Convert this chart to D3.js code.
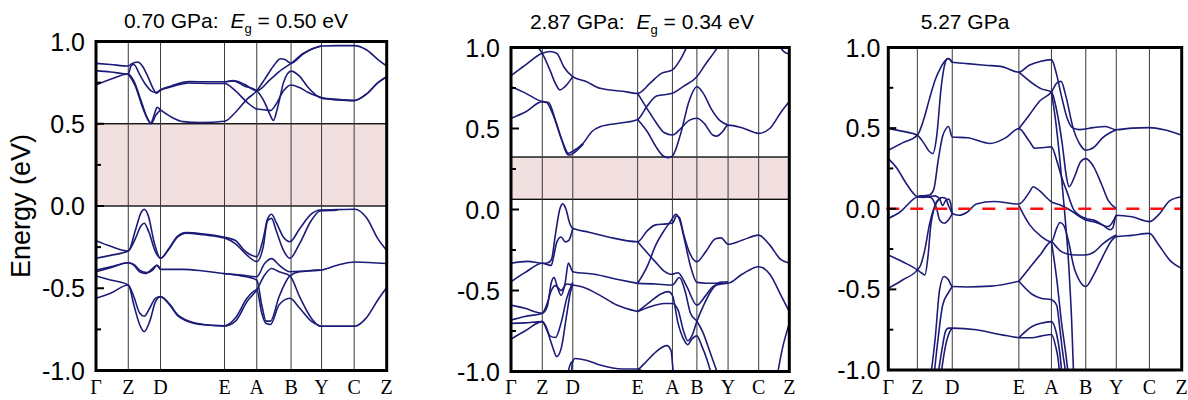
<!DOCTYPE html>
<html>
<head>
<meta charset="utf-8">
<script src="https://cdn.jsdelivr.net/npm/d3@7"></script>
<style>
  body { margin: 0; background: #fff; }
  svg { display: block; }
</style>
</head>
<body>
<svg id="chart" width="1188" height="400"></svg>
<script>
// High-symmetry points along the k-path and their positions (% of path length)
const kLabels = ["Γ", "Z", "D", "E", "A", "B", "Y", "C", "Z"];
const kPos1 = [0, 11.1, 22.2, 44.2, 55.3, 67.1, 77.6, 88.8, 100];
const kPos2 = [0, 11.25, 22.2, 45.5, 58.0, 66.8, 78.0, 89.0, 100];
const kPos3 = [0, 9.9, 21.8, 44.5, 55.6, 67.3, 77.7, 89.0, 100];

const energyTicks = [-1.0, -0.5, 0.0, 0.5, 1.0];
const energyMinorTicks = [-0.75, -0.25, 0.25, 0.75];

const pressures = ["0.70 GPa", "2.87 GPa", "5.27 GPa"];
const gapValues = ["0.50", "0.34", null];
// Shaded band-gap windows [lower, upper] in eV
const gapWindows = [[0.0, 0.50], [0.063, 0.324], null];

// Bands: each is a list of [k (% of path), energy (eV)]
const bands1 = [
  [[0,0.867],[5,0.86],[11.1,0.851],[12.3,0.865],[14.3,0.875],[16,0.85],[18,0.78],[19.5,0.72],[20.8,0.685],[22.2,0.705],[26,0.73],[32,0.756],[40,0.755],[44.2,0.755],[47,0.762],[51,0.73],[55.3,0.70],[58,0.63],[60,0.55],[61,0.52],[62.5,0.6],[64.5,0.75],[67.1,0.82],[70,0.79],[73,0.72],[77.6,0.655],[83,0.645],[88.8,0.64],[93,0.68],[97,0.75],[100,0.786]],
  [[0,0.823],[5,0.815],[11.1,0.802],[12,0.85],[13,0.86],[15,0.8],[17,0.74],[19,0.70],[20.5,0.69],[22.2,0.705],[26,0.725],[32,0.748],[40,0.745],[44.2,0.745],[48,0.7],[52,0.63],[55.3,0.59],[58,0.585],[60,0.58],[62,0.62],[64.5,0.70],[67.1,0.736],[70,0.72],[73,0.69],[77.6,0.66],[83,0.648],[88.8,0.642],[93,0.68],[97,0.75],[100,0.786]],
  [[0,0.736],[5,0.77],[11.1,0.802],[13,0.76],[15.5,0.64],[17.5,0.54],[18.8,0.505],[20.3,0.57],[21,0.6],[22.2,0.584],[26,0.54],[30,0.513],[36,0.507],[44.2,0.515],[48,0.57],[52,0.65],[55.3,0.70],[58,0.77],[61,0.85],[63.5,0.895],[65,0.89],[67.1,0.867],[71,0.92],[75,0.96],[77.6,0.973],[83,0.975],[88.8,0.975],[93,0.95],[97,0.89],[100,0.851]],
  [[11.1,0.802],[13.5,0.73],[16,0.6],[18,0.52],[19,0.5],[20.5,0.55],[22.2,0.584]],
  [[44.2,0.755],[48,0.76],[51,0.74],[55.3,0.70],[60,0.77],[64,0.83],[67.1,0.867],[71,0.925],[77.6,0.973]],
  [[0,-0.211],[5,-0.245],[11.1,-0.274],[13.5,-0.15],[15.5,-0.04],[16.6,-0.02],[18,-0.06],[20,-0.22],[22.2,-0.318],[25,-0.26],[28,-0.185],[31,-0.162],[37,-0.17],[44.2,-0.19],[48,-0.21],[51,-0.27],[55.3,-0.308],[57.5,-0.2],[59,-0.08],[60.4,-0.05],[62,-0.1],[64.5,-0.19],[66.7,-0.217],[70,-0.14],[74,-0.05],[77.1,-0.024],[83,-0.022],[89.1,-0.02],[93,-0.07],[97,-0.2],[100,-0.27]],
  [[0,-0.318],[5,-0.3],[11.1,-0.274],[13.5,-0.2],[15.5,-0.12],[16.6,-0.105],[18,-0.15],[20.5,-0.28],[22.2,-0.318],[25,-0.265],[28,-0.19],[31,-0.165],[37,-0.175],[44.2,-0.195],[48,-0.23],[52,-0.3],[55.3,-0.338],[57.5,-0.25],[59,-0.09],[60.4,-0.075],[62,-0.15],[64.5,-0.27],[66.7,-0.318],[70,-0.23],[74,-0.09],[77.1,-0.03],[83,-0.025]],
  [[0,-0.39],[5,-0.37],[11.1,-0.345],[13,-0.36],[15,-0.40],[17,-0.41],[19.5,-0.38],[20.9,-0.36],[22.2,-0.385],[30,-0.385],[37,-0.395],[43.8,-0.41],[50,-0.42],[55.3,-0.43],[58,-0.35],[60.4,-0.32],[63,-0.36],[66.7,-0.40],[72,-0.395],[77.1,-0.39],[83,-0.36],[89.1,-0.34],[100,-0.35]],
  [[0,-0.40],[5,-0.375],[11.1,-0.345],[13,-0.355],[15,-0.39],[17.5,-0.405],[19.5,-0.39],[21,-0.36],[22.2,-0.385]],
  [[0,-0.425],[5,-0.45],[11.1,-0.48],[13,-0.55],[15,-0.65],[16.6,-0.67],[18.5,-0.62],[20.5,-0.56],[22.2,-0.551],[25.5,-0.6],[28,-0.66],[31,-0.693],[37,-0.72],[44.2,-0.729],[48,-0.7],[52,-0.58],[55.3,-0.51],[58,-0.42],[60.4,-0.38],[63,-0.40],[66.7,-0.425],[70,-0.55],[74,-0.68],[77.1,-0.73],[83,-0.73],[89.1,-0.73],[93,-0.68],[97,-0.57],[100,-0.496]],
  [[0,-0.561],[5,-0.53],[11.1,-0.48],[13,-0.6],[15,-0.72],[16.6,-0.764],[18.5,-0.7],[20.5,-0.58],[22.2,-0.551],[25.5,-0.605],[28,-0.665],[31,-0.697],[37,-0.722],[44.2,-0.729],[48,-0.68],[52,-0.56],[55.3,-0.51],[57,-0.65],[58.5,-0.715],[60,-0.72],[63,-0.6],[66.7,-0.561],[70,-0.62],[74,-0.7],[77.1,-0.73]],
  [[43.8,-0.41],[50,-0.425],[55.3,-0.45],[57,-0.6],[58.5,-0.70],[60,-0.70],[63,-0.55],[66.7,-0.425],[70,-0.4],[77.1,-0.39]]
];

const bands2 = [
  [[0,0.826],[5,0.89],[11.25,0.964],[14,0.975],[16.4,0.965],[19,0.88],[22.2,0.82],[27,0.79],[32,0.748],[40,0.73],[45.5,0.717],[50,0.78],[54,0.84],[58,0.862],[61,0.93],[63.1,1.0],[64.5,1.04]],
  [[7,1.04],[11.25,0.964],[14,0.86],[16.2,0.77],[17.6,0.738],[19.5,0.76],[22.2,0.82]],
  [[0,0.758],[5,0.72],[11.25,0.666],[13.5,0.66],[16,0.55],[18.5,0.42],[20.6,0.347],[22.2,0.36],[26,0.41],[29,0.48],[32,0.511],[40,0.535],[45.5,0.556],[49,0.64],[52.3,0.70],[58,0.717],[62,0.76],[66.8,0.82],[70,0.9],[73,0.97],[75,1.02]],
  [[0,0.563],[5,0.6],[11.25,0.666],[12.8,0.66],[15,0.59],[18,0.44],[20.3,0.34],[21.2,0.336],[22.2,0.345],[26,0.405]],
  [[45.5,0.717],[49,0.62],[52,0.54],[55,0.475],[58,0.46],[61,0.5],[64,0.55],[66.8,0.563],[69.5,0.53],[72.5,0.46],[73.9,0.453],[76,0.48],[78,0.521],[83,0.505],[89,0.47],[93,0.5],[97,0.6],[100,0.666]],
  [[45.5,0.556],[49,0.48],[52,0.39],[54.7,0.33],[56.5,0.32],[58,0.33],[61,0.47],[64,0.67],[66.8,0.758],[69,0.72],[72,0.62],[75,0.55],[78,0.521]],
  [[95.5,1.04],[98,0.975],[100,0.96]],
  [[0,-0.332],[6,-0.32],[11.25,-0.332],[13,-0.33],[14.5,-0.31],[16,-0.15],[17.5,0.0],[18.6,0.035],[19.8,0.0],[21,-0.08],[22.2,-0.116],[28,-0.14],[35,-0.17],[45.5,-0.199],[49,-0.13],[52,-0.095],[55,-0.09],[58,-0.085],[59.5,-0.04],[60.5,-0.05],[62,-0.15],[64,-0.26],[66.8,-0.322],[70,-0.26],[73.5,-0.18],[75.5,-0.175],[78,-0.215],[83,-0.19],[89,-0.158],[93,-0.22],[97,-0.31],[100,-0.33]],
  [[0,-0.446],[5,-0.39],[11.25,-0.332],[13,-0.34],[14.5,-0.345],[15.2,-0.3],[16.5,-0.2],[18,-0.17],[19.5,-0.2],[20.8,-0.19],[22.2,-0.116]],
  [[45.5,-0.199],[51.7,-0.32],[55,-0.38],[57.7,-0.40],[60,-0.39],[63,-0.47],[66.8,-0.59],[70,-0.53],[73,-0.47],[78,-0.455]],
  [[45.5,-0.456],[49,-0.35],[52,-0.22],[55,-0.13],[57.5,-0.07],[59.2,-0.03],[60.5,-0.06],[62.5,-0.2],[64.5,-0.35],[66.8,-0.45],[70,-0.455],[78,-0.455],[83,-0.4],[89,-0.353],[93,-0.4],[97,-0.53],[100,-0.63]],
  [[45.5,-0.456],[52,-0.46],[58,-0.466],[60.5,-0.42],[62.5,-0.5],[64.5,-0.64],[66.8,-0.69],[69,-0.76],[71.5,-0.88],[74,-1.0],[75,-1.05]],
  [[45.5,-0.63],[50,-0.6],[55,-0.58],[58,-0.58],[60,-0.62],[62,-0.75],[63.5,-0.81],[65,-0.78],[66.8,-0.69],[69,-0.6],[72,-0.5],[75,-0.45],[78,-0.446]],
  [[45.5,-0.63],[50,-0.57],[54,-0.52],[56.5,-0.507],[58,-0.53],[60,-0.7],[62,-0.8],[63.5,-0.835],[65,-0.8],[66.8,-0.78],[68.5,-0.84],[70.5,-0.93],[72.5,-1.05]],
  [[45,-1.0],[48,-0.95],[52,-0.88],[56,-0.84],[57.5,-0.87],[58.3,-1.0],[58.8,-1.05]],
  [[21.7,-1.05],[22,-0.95],[23,-0.92],[27,-0.93],[32,-0.96],[40,-0.985],[45.5,-0.985],[48,-1.01]],
  [[20.3,-1.05],[21,-0.97],[22.2,-0.935]],
  [[0,-0.59],[5,-0.61],[11.25,-0.64],[13,-0.6],[14.5,-0.45],[15.5,-0.42],[16.5,-0.47],[18,-0.53],[19.5,-0.45],[20.6,-0.33],[21.5,-0.36],[22.2,-0.384],[30,-0.40],[38,-0.43],[45.5,-0.456]],
  [[0,-0.682],[5,-0.66],[11.25,-0.64],[13,-0.58],[14.5,-0.5],[16,-0.47],[18,-0.5],[20,-0.46],[22.2,-0.466],[26,-0.48],[32,-0.53],[38,-0.59],[45.5,-0.63]],
  [[0,-0.703],[5,-0.7],[11.25,-0.692],[13,-0.75],[15,-0.85],[16.4,-0.908],[18,-0.86],[20,-0.65],[21.5,-0.5],[22.2,-0.466]],
  [[0,-0.8],[5,-0.75],[11.25,-0.692],[12.5,-0.72],[14,-0.78],[16,-0.79],[18,-0.7],[20,-0.55],[22.2,-0.45]],
  [[95.4,-1.05],[97.5,-0.86],[100,-0.703]]
];

const bands3 = [
  [[0,0.497],[5,0.48],[9.9,0.456],[12,0.41],[14,0.355],[15.2,0.342],[16.5,0.45],[18,0.75],[19.3,0.9],[20.1,0.932],[20.8,0.93],[21.8,0.909],[27,0.9],[33,0.89],[39,0.88],[44.5,0.847],[48,0.89],[52,0.915],[55.6,0.925],[57.4,0.83],[59,0.7],[61,0.56],[63,0.5],[65.3,0.491],[69.9,0.503],[74,0.51],[77.7,0.49],[83,0.5],[89,0.503],[94,0.49],[100,0.456]],
  [[0,0.363],[5,0.41],[9.9,0.456],[12,0.55],[14,0.68],[16,0.8],[18,0.88],[19.5,0.92],[20.5,0.93],[21.8,0.909]],
  [[9.9,0.075],[12,0.08],[14,0.085],[15.5,0.12],[17,0.3],[18.5,0.45],[19.8,0.5],[20.5,0.51],[21.8,0.445],[27,0.44],[34.7,0.405],[40,0.44],[44.5,0.497],[48,0.42],[50,0.375],[53,0.38],[55.6,0.384],[57.4,0.3],[59,0.2],[61,0.1],[63,0.0],[65,-0.04],[67.3,-0.06],[70,-0.07],[73,-0.1],[75.6,-0.13],[76.5,-0.12],[77.7,-0.04],[83,-0.05],[89,-0.08],[92,-0.04],[96,0.05],[100,0.074]],
  [[44.5,0.497],[48,0.58],[51.7,0.67],[55.6,0.724],[57.5,0.78],[58.9,0.79],[60.5,0.7],[63,0.5],[65.3,0.4],[67.3,0.363],[70,0.38],[73,0.44],[77.7,0.49]],
  [[44.5,0.847],[49,0.78],[52,0.745],[55.6,0.724],[57.5,0.6],[59.3,0.4],[60.7,0.2],[61.6,0.136],[63.5,0.2],[65.5,0.29],[67.3,0.311],[70,0.26],[72.5,0.16],[75,0.05],[77.7,0.0]],
  [[0,0.311],[3,0.25],[6,0.16],[9.9,0.075],[12,0.07],[14,0.075],[16,0.08],[17.5,0.06],[18.5,0.02],[19.5,0.05],[20.5,0.06],[21.3,0.03],[21.8,-0.03],[24,-0.04],[27,-0.02],[30,0.03],[36,0.045],[44.5,0.029],[48,0.1],[49.4,0.136],[51,0.12],[55.6,0.043],[59,0.02],[63,-0.02],[65.3,-0.05],[67.3,-0.07],[70,-0.08],[75,-0.11],[77.7,-0.04]],
  [[0,-0.06],[4,-0.02],[9.9,0.075],[12,0.08],[14.5,0.07],[16.5,0.0],[17.5,-0.07],[19,-0.09],[20.5,-0.07],[21.8,-0.03]],
  [[0,-0.287],[5,-0.33],[9.9,-0.379],[11.5,-0.4],[12.5,-0.41],[13.5,-0.3],[14.5,-0.1],[15.6,0.0],[16.7,0.05],[18.4,0.07],[19.5,0.065],[20.5,0.02],[21.8,-0.03]],
  [[0,-0.493],[5,-0.44],[9.9,-0.379],[11,-0.35],[12.5,-0.25],[14,-0.1],[15.5,0.0],[16.5,0.04],[18,0.07]],
  [[44.5,0.02],[48.2,-0.1],[52,-0.17],[55.6,-0.204],[57.4,-0.12],[58.5,-0.085],[59.7,-0.1],[61.4,-0.2],[63.1,-0.35],[65.3,-0.45],[67.3,-0.482],[70,-0.41],[72.2,-0.33],[74.4,-0.25],[76,-0.2],[77.7,-0.173],[83,-0.165],[89,-0.153],[92,-0.22],[96,-0.32],[100,-0.37]],
  [[44.5,-0.45],[48,-0.37],[52,-0.28],[55.6,-0.204],[57,-0.23],[58.5,-0.26],[61,-0.28],[64,-0.287],[67.3,-0.287],[70,-0.27],[73,-0.22],[76,-0.18],[77.7,-0.163]],
  [[44.5,-0.45],[49,-0.53],[52,-0.555],[55.6,-0.565],[57.4,-0.6],[58.5,-0.75],[59.5,-0.9],[60.3,-1.0],[60.6,-1.05]],
  [[55.6,-0.204],[57.5,-0.45],[59,-0.7],[60.5,-0.9],[61.5,-1.05]],
  [[55.6,0.724],[57,0.55],[58.5,0.3],[60,0.0],[61.5,-0.35],[62.5,-0.7],[63.2,-1.05]],
  [[44.5,-0.80],[49,-0.73],[52,-0.71],[55.6,-0.70],[57.4,-0.78],[58.5,-0.9],[59.3,-1.05]],
  [[44.5,-0.80],[49,-0.8],[52,-0.79],[55.6,-0.78],[57,-0.85],[58,-0.95],[58.5,-1.05]],
  [[14.4,-1.05],[16,-0.8],[17.5,-0.5],[19,-0.42],[20.5,-0.44],[21.8,-0.482],[27,-0.485],[35,-0.48],[44.5,-0.45]],
  [[15.5,-1.05],[17,-0.8],[18.5,-0.6],[20.5,-0.52],[21.8,-0.482]],
  [[16.8,-1.05],[18.5,-0.85],[19.5,-0.76],[20.5,-0.74],[21.8,-0.74],[30,-0.75],[38,-0.78],[44.5,-0.80]],
  [[17.8,-1.05],[19.5,-0.85],[21,-0.76],[21.8,-0.74]]
];

// Panel layout (pixels)
const layout = [
  { left: 96,    right: 386.7,  top: 41.5, bottom: 370.5, titleX: 236, titleY: 28, labelGap: 11 },
  { left: 511,   right: 789.3,  top: 47.5, bottom: 371.5, titleX: 642, titleY: 29, labelGap: 11 },
  { left: 888.3, right: 1181.7, top: 47.5, bottom: 370.0, titleX: 965, titleY: 29, labelGap: 8 }
];
const bandSets = [bands1, bands2, bands3];
const kPosSets = [kPos1, kPos2, kPos3];

const BAND_COLOR = "#1c1c78";
const SANS = "'Liberation Sans', Arial, Helvetica, sans-serif";
const SERIF = "'Liberation Serif', 'Times New Roman', serif";

const svg = d3.select("#chart");
const defs = svg.append("defs");

layout.forEach((L, i) => {
  const x = d3.scaleLinear().domain([0, 100]).range([L.left, L.right]);
  const y = d3.scaleLinear().domain([-1, 1]).range([L.bottom, L.top]);
  const g = svg.append("g");

  const clipId = "clip" + i;
  defs.append("clipPath").attr("id", clipId)
    .append("rect")
    .attr("x", L.left).attr("y", L.top)
    .attr("width", L.right - L.left).attr("height", L.bottom - L.top);

  // band-gap window
  const gw = gapWindows[i];
  if (gw) {
    g.append("rect")
      .attr("x", x(0)).attr("y", y(gw[1]))
      .attr("width", x(100) - x(0)).attr("height", y(gw[0]) - y(gw[1]))
      .attr("fill", "#f2dfdf")
      .attr("stroke", "#000").attr("stroke-width", 1.3);
  }

  // high-symmetry lines
  g.append("g").selectAll("line")
    .data(kPosSets[i].slice(1, -1))
    .join("line")
    .attr("x1", d => x(d)).attr("x2", d => x(d))
    .attr("y1", L.top).attr("y2", L.bottom)
    .attr("stroke", "#3a3a3a").attr("stroke-width", 1);

  // bands
  const line = d3.line()
    .x(d => x(d[0])).y(d => y(d[1]))
    .curve(d3.curveMonotoneX);
  g.append("g").attr("clip-path", `url(#${clipId})`)
    .selectAll("path")
    .data(bandSets[i])
    .join("path")
    .attr("d", line)
    .attr("fill", "none")
    .attr("stroke", BAND_COLOR)
    .attr("stroke-width", 1.6)
    .attr("stroke-linejoin", "round");

  // dashed Fermi level, drawn over the bands
  if (i === 2) {
    g.append("line")
      .attr("x1", x(0) - 2).attr("x2", x(100))
      .attr("y1", y(0)).attr("y2", y(0))
      .attr("stroke", "#ff1010").attr("stroke-width", 2.6)
      .attr("stroke-dasharray", "13,11");
  }

  // frame
  g.append("rect")
    .attr("x", L.left).attr("y", L.top)
    .attr("width", L.right - L.left).attr("height", L.bottom - L.top)
    .attr("fill", "none").attr("stroke", "#000").attr("stroke-width", 3);

  // inward ticks
  g.append("g").selectAll("line")
    .data(energyTicks)
    .join("line")
    .attr("x1", L.left).attr("x2", L.left + 8)
    .attr("y1", d => y(d)).attr("y2", d => y(d))
    .attr("stroke", "#000").attr("stroke-width", 2);
  g.append("g").selectAll("line")
    .data(energyMinorTicks)
    .join("line")
    .attr("x1", L.left).attr("x2", L.left + 5)
    .attr("y1", d => y(d)).attr("y2", d => y(d))
    .attr("stroke", "#000").attr("stroke-width", 2);

  // energy tick labels (plain hyphen for negatives)
  g.append("g").selectAll("text")
    .data(energyTicks)
    .join("text")
    .attr("x", L.left - L.labelGap)
    .attr("y", d => y(d))
    .attr("dy", "0.36em")
    .attr("text-anchor", "end")
    .attr("font-family", SANS)
    .attr("font-size", 25)
    .attr("fill", "#000")
    .text(d => d.toFixed(1));

  // k-point labels
  g.append("g").selectAll("text")
    .data(kLabels)
    .join("text")
    .attr("x", (d, j) => x(kPosSets[i][j]))
    .attr("y", 394)
    .attr("text-anchor", "middle")
    .attr("font-family", SERIF)
    .attr("font-size", 20)
    .attr("fill", "#000")
    .text(d => d);

  // panel title
  const t = g.append("text")
    .attr("x", L.titleX).attr("y", L.titleY)
    .attr("text-anchor", "middle")
    .attr("font-family", SANS)
    .attr("font-size", 21)
    .attr("fill", "#000");
  if (gapValues[i]) {
    t.append("tspan").text(pressures[i] + ":");
    t.append("tspan").attr("dx", 12).attr("font-style", "italic").text("E");
    t.append("tspan").attr("font-size", 13).attr("dy", 5).text("g");
    t.append("tspan").attr("dy", -5).text(" = " + gapValues[i] + " eV");
  } else {
    t.text(pressures[i]);
  }
});

// shared energy axis title
svg.append("text")
  .attr("transform", "translate(30,206) rotate(-90)")
  .attr("text-anchor", "middle")
  .attr("font-family", SANS)
  .attr("font-size", 27)
  .attr("fill", "#000")
  .text("Energy (eV)");
</script>
</body>
</html>
